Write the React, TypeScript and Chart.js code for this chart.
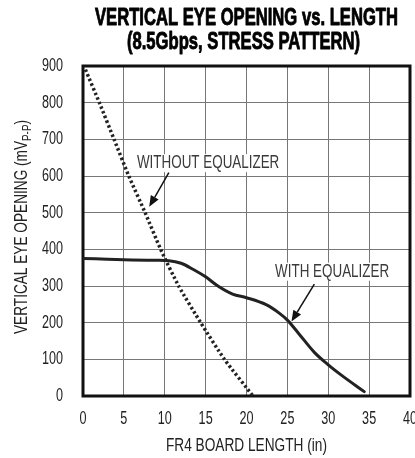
import React, { useEffect, useRef } from "react";
import { Chart, registerables } from "chart.js";
Chart.register(...registerables);

const titleLines = ["VERTICAL EYE OPENING vs. LENGTH", "(8.5Gbps, STRESS PATTERN)"];
const xAxisTitle = "FR4 BOARD LENGTH (in)";
const yAxisTitleMain = "VERTICAL EYE OPENING (mV";
const yAxisTitleSub = "P-P";
const yAxisTitleEnd = ")";

const xMin = 0, xMax = 40, xStep = 5;
const yMin = 0, yMax = 900, yStep = 100;

// Without equalizer (dotted)
const noEqX = [0.3, 2.0, 3.8, 5.6, 7.6, 9.5, 11.7, 14.4, 17.3, 20.8];
const noEqY = [890, 800, 700, 600, 500, 400, 300, 200, 100, 0];

// With equalizer (solid)
const eqX = [0, 3, 6, 9, 10.5, 12, 13.5, 15, 16.5, 18.3, 20, 22.4, 24, 25, 26.4, 28.3, 30, 31.6, 34.4];
const eqY = [375, 373, 371, 370, 369, 362, 345, 325, 300, 278, 268, 249, 226, 207, 170, 119, 85, 57, 12];

// Annotation labels: text, text anchor (data), arrow start, arrow tip (data)
const annoTexts = ["WITHOUT EQUALIZER", "WITH EQUALIZER"];
const annoTextX = [6.6, 23.5];
const annoTextY = [635, 339];
const annoFromX = [10.5, 28.3];
const annoFromY = [609, 305];
const annoToX = [8.1, 25.5];
const annoToY = [516, 203];

const FONT = "'Liberation Sans', Arial, sans-serif";
const CONDENSE = 0.7;

function drawText(ctx: any, text: string, x: number, y: number, align: string, sx: number, stroke = 0) {
  ctx.save();
  ctx.translate(x, y);
  ctx.scale(sx, 1);
  ctx.textAlign = align;
  ctx.fillText(text, 0, 0);
  if (stroke > 0) {
    ctx.lineWidth = stroke;
    ctx.strokeStyle = ctx.fillStyle;
    ctx.lineJoin = "round";
    ctx.strokeText(text, 0, 0);
  }
  ctx.restore();
}

const overlayPlugin = {
  id: "overlay",
  beforeDatasetsDraw(chart: any) {
    const { ctx, chartArea } = chart;
    ctx.save();
    ctx.strokeStyle = "#111";
    ctx.lineWidth = 3;
    ctx.strokeRect(chartArea.left, chartArea.top, chartArea.right - chartArea.left, chartArea.bottom - chartArea.top);
    ctx.restore();
  },
  afterDraw(chart: any) {
    const { ctx, chartArea, scales } = chart;
    const cx = (chartArea.left + chartArea.right) / 2;
    const xs = scales.x, ys = scales.y;
    ctx.save();
    ctx.textBaseline = "middle";

    // Title (bold, condensed)
    ctx.fillStyle = "#000";
    ctx.font = `bold 24px ${FONT}`;
    const tsx = 303 / ctx.measureText(titleLines[0]).width;
    drawText(ctx, titleLines[0], cx, 18, "center", tsx, 0.9);
    drawText(ctx, titleLines[1], cx - 3, 42, "center", tsx, 0.9);

    // Tick labels from the library's scales
    ctx.fillStyle = "#222";
    ctx.font = `18px ${FONT}`;
    xs.ticks.forEach((t: any) => {
      const px = xs.getPixelForValue(t.value);
      drawText(ctx, String(t.label ?? t.value), px, 419, "center", CONDENSE);
    });
    ys.ticks.forEach((t: any) => {
      const py = ys.getPixelForValue(t.value);
      drawText(ctx, String(t.label ?? t.value), 63, py, "right", CONDENSE);
    });

    // X title
    ctx.font = `18px ${FONT}`;
    const xsx = 161 / ctx.measureText(xAxisTitle).width;
    drawText(ctx, xAxisTitle, cx, 446, "center", xsx);

    // Y title rotated with subscript
    ctx.save();
    ctx.translate(22, 227);
    ctx.rotate(-Math.PI / 2);
    ctx.textAlign = "left";
    ctx.font = `18px ${FONT}`;
    const w1 = ctx.measureText(yAxisTitleMain).width;
    const w3 = ctx.measureText(yAxisTitleEnd).width;
    ctx.font = `13px ${FONT}`;
    const w2 = ctx.measureText(yAxisTitleSub).width;
    const total = w1 + w2 + w3;
    const ysx = 214 / total;
    ctx.scale(ysx, 1);
    const x0 = -total / 2;
    ctx.font = `18px ${FONT}`;
    ctx.fillText(yAxisTitleMain, x0, 0);
    ctx.font = `13px ${FONT}`;
    ctx.fillText(yAxisTitleSub, x0 + w1, 5);
    ctx.font = `18px ${FONT}`;
    ctx.fillText(yAxisTitleEnd, x0 + w1 + w2, 0);
    ctx.restore();

    // Annotations
    ctx.font = `19px ${FONT}`;
    const asx = 114 / ctx.measureText(annoTexts[1]).width;
    for (let i = 0; i < annoTexts.length; i++) {
      const tx = xs.getPixelForValue(annoTextX[i]);
      const ty = ys.getPixelForValue(annoTextY[i]);
      const tw = ctx.measureText(annoTexts[i]).width * asx;
      ctx.fillStyle = "#fff";
      ctx.fillRect(tx - 2, ty - 9, tw + 4, 18);
      ctx.fillStyle = "#3a3a3a";
      drawText(ctx, annoTexts[i], tx, ty, "left", asx);
      const fx = xs.getPixelForValue(annoFromX[i]);
      const fy = ys.getPixelForValue(annoFromY[i]);
      const px = xs.getPixelForValue(annoToX[i]);
      const py = ys.getPixelForValue(annoToY[i]);
      const ang = Math.atan2(py - fy, px - fx);
      const hl = 11, hw = 4.5;
      const bx = px - hl * Math.cos(ang), by = py - hl * Math.sin(ang);
      ctx.strokeStyle = "#111";
      ctx.lineWidth = 1.5;
      ctx.beginPath();
      ctx.moveTo(fx, fy);
      ctx.lineTo(bx, by);
      ctx.stroke();
      ctx.fillStyle = "#111";
      ctx.beginPath();
      ctx.moveTo(px, py);
      ctx.lineTo(bx + hw * Math.sin(ang), by - hw * Math.cos(ang));
      ctx.lineTo(bx - hw * Math.sin(ang), by + hw * Math.cos(ang));
      ctx.closePath();
      ctx.fill();
    }
    ctx.restore();
  },
};

export default function App() {
  const ref = useRef<HTMLCanvasElement | null>(null);
  useEffect(() => {
    if (!ref.current) return;
    const chart = new Chart(ref.current, {
      type: "line",
      data: {
        datasets: [
          {
            label: "WITHOUT EQUALIZER",
            data: noEqX.map((x, i) => ({ x, y: noEqY[i] })),
            borderColor: "#222",
            borderWidth: 3.5,
            borderDash: [2.5, 2.5],
            borderCapStyle: "butt",
            pointRadius: 0,
            tension: 0.2,
            fill: false,
          },
          {
            label: "WITH EQUALIZER",
            data: eqX.map((x, i) => ({ x, y: eqY[i] })),
            borderColor: "#222",
            borderWidth: 3,
            borderCapStyle: "round",
            pointRadius: 0,
            cubicInterpolationMode: "monotone",
            fill: false,
          },
        ],
      },
      options: {
        animation: false,
        responsive: false,
        maintainAspectRatio: false,
        layout: { padding: { top: 66, right: 5, left: 0, bottom: 0 } },
        plugins: {
          legend: { display: false },
          title: { display: false },
          tooltip: { enabled: false },
        },
        scales: {
          x: {
            type: "linear",
            min: xMin,
            max: xMax,
            ticks: { stepSize: xStep, display: false, autoSkip: false },
            grid: { color: "#777", lineWidth: 1, drawTicks: false },
            border: { display: false },
            afterFit: (a: any) => {
              a.height = 62;
              a.paddingLeft = 0;
              a.paddingRight = 0;
            },
          },
          y: {
            type: "linear",
            min: yMin,
            max: yMax,
            ticks: { stepSize: yStep, display: false },
            grid: { color: "#777", lineWidth: 1, drawTicks: false },
            border: { display: false },
            afterFit: (a: any) => {
              a.width = 83;
              a.paddingTop = 0;
              a.paddingBottom = 0;
            },
          },
        },
      } as any,
      plugins: [overlayPlugin],
    });
    return () => chart.destroy();
  }, []);
  return (
    <div style={{ position: "fixed", left: 0, top: 0, width: 415, height: 458, background: "#fff" }}>
      <canvas ref={ref} width={415} height={458} style={{ width: 415, height: 458, display: "block" }} />
    </div>
  );
}
